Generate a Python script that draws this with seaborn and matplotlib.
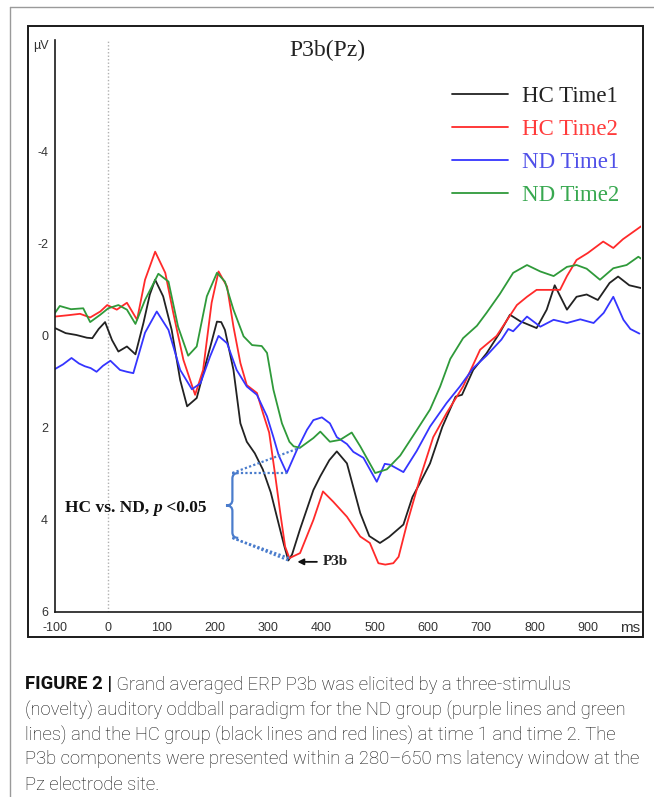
import numpy as np
import pandas as pd
import seaborn as sns
import matplotlib
matplotlib.use("Agg")
from matplotlib import pyplot as plt
from matplotlib.path import Path
from matplotlib.patches import PathPatch, Rectangle
from matplotlib.lines import Line2D

# grand averaged ERP at Pz (ms, microvolt)
hc1_ms = [-100, -80, -60, -40, -30, -18, -6, 7, 19, 35, 51, 66, 78, 88, 103, 119, 135, 148, 166, 185,
          204, 212, 219, 235, 248, 260, 275, 290, 305, 318, 330, 338, 345, 360, 385, 398, 415, 429, 448,
          473, 490, 510, 527, 554, 571, 585, 604, 627, 652, 664, 685, 710, 735, 754, 773, 804, 823, 838,
          861, 879, 898, 919, 941, 957, 978, 1000]
hc1_uv = [-0.17, -0.06, -0.02, 0.04, 0.05, -0.15, -0.3, 0.09, 0.34, 0.23, 0.4, -0.28, -0.9, -1.22, -0.86,
          -0.13, 0.96, 1.53, 1.35, 0.52, -0.31, -0.3, -0.13, 0.74, 1.9, 2.3, 2.55, 2.9, 3.4, 4.0, 4.55,
          4.88, 4.75, 4.2, 3.35, 3.05, 2.7, 2.51, 2.77, 3.85, 4.35, 4.5, 4.37, 4.1, 3.5, 3.2, 2.77, 1.98,
          1.32, 1.28, 0.74, 0.38, -0.07, -0.46, -0.32, -0.17, -0.57, -1.1, -0.57, -0.85, -0.9, -0.78,
          -1.15, -1.29, -1.1, -1.04]

hc2_ms = [-100, -75, -53, -34, -15, -2, 16, 35, 54, 69, 88, 107, 122, 141, 163, 178, 194, 207, 223, 235,
          248, 260, 279, 291, 302, 313, 323, 332, 340, 360, 385, 403, 422, 448, 473, 491, 507, 520, 535,
          545, 561, 585, 610, 635, 666, 698, 729, 767, 786, 804, 830, 848, 861, 879, 900, 929, 948, 966,
          1000]
hc2_uv = [-0.42, -0.45, -0.48, -0.4, -0.53, -0.67, -0.57, -0.72, -0.35, -1.22, -1.83, -1.37, -0.5, 0.52,
          1.28, 0.74, -0.72, -1.4, -1.07, -0.2, 0.59, 1.07, 1.24, 1.7, 2.1, 3.0, 3.86, 4.58, 4.83, 4.72,
          4.0, 3.38, 3.6, 3.93, 4.36, 4.5, 4.94, 4.97, 4.94, 4.8, 4.07, 3.1, 2.2, 1.68, 1.1, 0.3, 0.0,
          -0.67, -0.85, -1.0, -1.0, -1.0, -1.3, -1.65, -1.8, -2.05, -1.91, -2.1, -2.38]

nd1_ms = [-100, -85, -69, -55, -44, -33, -22, -10, 4, 22, 35, 47, 69, 91, 113, 135, 157, 173, 191, 207,
          223, 241, 260, 279, 298, 310, 320, 335, 354, 373, 385, 401, 416, 429, 448, 460, 479, 504, 519,
          529, 554, 579, 604, 635, 660, 685, 710, 738, 751, 760, 786, 811, 836, 861, 886, 911, 930, 948,
          967, 980, 997]
nd1_uv = [0.72, 0.62, 0.48, 0.6, 0.66, 0.7, 0.78, 0.65, 0.54, 0.74, 0.78, 0.81, -0.07, -0.53, -0.13,
          0.74, 1.16, 1.03, 0.45, 0.0, 0.16, 0.74, 1.1, 1.28, 1.75, 2.2, 2.6, 2.98, 2.48, 2.04, 1.83, 1.77,
          1.9, 2.2, 2.35, 2.52, 2.65, 3.17, 2.78, 2.8, 2.96, 2.5, 1.97, 1.46, 1.1, 0.7, 0.43, 0.08, -0.15,
          -0.1, -0.42, -0.2, -0.35, -0.28, -0.36, -0.28, -0.5, -0.85, -0.35, -0.15, -0.05]

nd2_ms = [-100, -91, -70, -47, -34, -15, 0, 19, 35, 51, 69, 94, 113, 131, 150, 166, 185, 204, 219, 235,
          254, 270, 288, 298, 310, 326, 340, 348, 360, 385, 398, 416, 435, 457, 473, 501, 523, 548, 579,
          604, 623, 642, 666, 692, 710, 735, 760, 786, 811, 836, 861, 879, 898, 923, 948, 973, 995, 1000]
nd2_uv = [-0.5, -0.65, -0.58, -0.6, -0.3, -0.46, -0.6, -0.67, -0.57, -0.26, -0.78, -1.35, -1.18, -0.2,
          0.43, 0.23, -0.86, -1.37, -1.18, -0.57, 0.01, 0.2, 0.22, 0.37, 1.17, 1.9, 2.3, 2.4, 2.43, 2.22,
          2.08, 2.3, 2.26, 2.1, 2.4, 2.98, 2.9, 2.6, 2.05, 1.6, 1.1, 0.5, 0.05, -0.22, -0.5, -0.91, -1.37,
          -1.54, -1.4, -1.3, -1.5, -1.54, -1.46, -1.22, -1.47, -1.54, -1.72, -1.68]

labels = ["HC Time1", "HC Time2", "ND Time1", "ND Time2"]
line_colors = ["#222222", "#ff2a2a", "#3535ff", "#2f9a3a"]
text_colors = ["#222222", "#ff3b3b", "#5050e8", "#38a850"]

x_ticks = list(range(-100, 1000, 100))
y_ticks = [-6, -4, -2, 0, 2, 4, 6]
y_ticklabels = ["", "-4", "-2", "0", "2", "4", "6"]

caption = [
    "(novelty) auditory oddball paradigm for the ND group (purple lines and green",
    "lines) and the HC group (black lines and red lines) at time 1 and time 2. The",
    "P3b components were presented within a 280\u2013650 ms latency window at the",
    "Pz electrode site.",
]

frames = []
for name, t, v in zip(labels, [hc1_ms, hc2_ms, nd1_ms, nd2_ms], [hc1_uv, hc2_uv, nd1_uv, nd2_uv]):
    frames.append(pd.DataFrame({"ms": t, "uV": v, "cond": name}))
df = pd.concat(frames, ignore_index=True)

sns.set_style("white")
plt.rcParams["font.family"] = ["Liberation Sans", "DejaVu Sans"]
plt.rcParams["axes.unicode_minus"] = False

W, H = 654, 797
fig = plt.figure(figsize=(W / 100, H / 100), dpi=100)


def fx(px):
    return px / W


def fy(py):
    return 1 - py / H


# page border and figure frame
fig.add_artist(Line2D([fx(10), fx(10)], [0, fy(7)], color="#9a9a9a", lw=1.0))
fig.add_artist(Line2D([fx(10), 1], [fy(7), fy(7)], color="#9a9a9a", lw=1.0))
fig.add_artist(Rectangle((fx(28), fy(637)), fx(643) - fx(28), fy(26) - fy(637),
                         transform=fig.transFigure, fill=False, ec="#1a1a1a", lw=1.4))

ax = fig.add_axes([fx(55), fy(612), fx(641) - fx(55), fy(40) - fy(612)])
ax.patch.set_alpha(0)

sns.lineplot(data=df, x="ms", y="uV", hue="cond", hue_order=labels, palette=line_colors,
             estimator=None, sort=False, legend=False, lw=1.3, ax=ax)

ax.set_xlim(-100, 1000)
ax.set_ylim(6, -6.43)
ax.axvline(0, color="#b0b0b0", lw=1.0, ls=(0, (1, 1.5)), zorder=0)

for s in ["top", "right"]:
    ax.spines[s].set_visible(False)
for s in ["left", "bottom"]:
    ax.spines[s].set_color("#1a1a1a")
    ax.spines[s].set_linewidth(1.2)

ax.set_xticks(x_ticks)
ax.set_xticks(np.arange(-100, 1000, 20), minor=True)
ax.set_yticks(y_ticks)
ax.set_yticklabels(y_ticklabels)
ax.set_yticks([-5, -3, -1, 1, 3, 5], minor=True)
ax.tick_params(axis="x", which="major", direction="inout", length=6, width=1, labelsize=9,
               labelcolor="#333333", pad=4)
ax.tick_params(axis="x", which="minor", direction="in", length=3, width=1)
ax.tick_params(axis="y", which="major", direction="out", length=4, width=1, labelsize=9,
               labelcolor="#333333", pad=1)
ax.tick_params(axis="y", which="minor", direction="out", length=3, width=1)
ax.set_xlabel("")
ax.set_ylabel("")

fig.text(fx(41), fy(46), "\u00b5V", fontsize=9, color="#333333", ha="center", va="center")
fig.text(fx(630), fy(628), "ms", fontsize=11, color="#333333", ha="center", va="center")

serif = ["Liberation Serif", "DejaVu Serif"]
fig.text(fx(327), fy(50), "P3b(Pz)", fontsize=17, family=serif, color="#222222",
         ha="center", va="center")

handles = [Line2D([], [], color=c, lw=1.3) for c in line_colors]
leg = ax.legend(handles, labels, loc="upper left", bbox_to_anchor=(fx(452), fy(86)),
                bbox_transform=fig.transFigure, frameon=False, borderpad=0, borderaxespad=0,
                handlelength=2.45, handletextpad=0.6, labelspacing=0.52,
                prop={"family": serif, "size": 16.5})
for txt, c in zip(leg.get_texts(), text_colors):
    txt.set_color(c)

# significance annotation: brace + dotted links to the P3b troughs
arr = {name: (np.array(t), np.array(v)) for name, t, v in
       zip(labels, [hc1_ms, hc2_ms, nd1_ms, nd2_ms], [hc1_uv, hc2_uv, nd1_uv, nd2_uv])}


def trough(name, lo=280, hi=400):
    t, v = arr[name]
    m = (t >= lo) & (t <= hi)
    i = np.argmax(v[m])
    return t[m][i], v[m][i]


brace_x, brace_tip, brace_hook = 233, 221, 244
top, bot = trough("ND Time1")[1], 4.39
mid = (top + bot) / 2
blue = "#4a7ccc"
verts = [(brace_hook, top), (brace_x, top), (brace_x, top + 0.12),
         (brace_x, mid - 0.12), (brace_x, mid), (brace_tip, mid),
         (brace_x, mid), (brace_x, mid + 0.12),
         (brace_x, bot - 0.12), (brace_x, bot), (brace_hook, bot)]
codes = [Path.MOVETO, Path.CURVE3, Path.CURVE3, Path.LINETO, Path.CURVE3, Path.CURVE3,
         Path.CURVE3, Path.CURVE3, Path.LINETO, Path.CURVE3, Path.CURVE3]
ax.add_patch(PathPatch(Path(verts, codes), fill=False, ec=blue, lw=1.6))

g_t = 360
g_v = arr["ND Time2"][1][list(arr["ND Time2"][0]).index(g_t)]
for (tx, vy), y0 in [(trough("ND Time1"), top), ((g_t, g_v), top),
                     (trough("HC Time1"), bot), (trough("HC Time2"), bot)]:
    ax.plot([brace_x, tx], [y0, vy], color=blue, lw=1.6, ls=(0, (1, 1)))

bold_serif = {"family": serif, "weight": "bold", "size": 12.5, "color": "#111111"}
t1 = ax.text(-81, 3.83, "HC vs. ND, ", va="baseline", ha="left", **bold_serif)
t2 = ax.annotate("p", xy=(1, 3.83), xycoords=(t1, "data"), va="baseline", ha="left",
                 style="italic", **bold_serif)
ax.annotate(" <0.05", xy=(1, 3.83), xycoords=(t2, "data"), va="baseline", ha="left", **bold_serif)

ax.annotate("P3b", xy=(355, 4.91), xytext=(403, 4.91), va="center", ha="left",
            family=serif, fontsize=11, weight="bold", color="#222222",
            arrowprops=dict(arrowstyle="-|>", color="#111111", lw=1.3,
                            mutation_scale=9, shrinkA=2, shrinkB=0))

# caption
cap_font = {"family": ["Roboto", "DejaVu Sans"], "size": 13.3, "color": "#111111"}
base0 = 689.5
head = fig.text(fx(25), fy(base0), "FIGURE 2 |", va="baseline", ha="left",
                weight="bold", **cap_font)
ax.annotate(" Grand averaged ERP P3b was elicited by a three-stimulus", xy=(1, fy(base0)),
            xycoords=(head, "figure fraction"), va="baseline", ha="left",
            weight="light", annotation_clip=False, **cap_font)
for i, line in enumerate(caption):
    fig.text(fx(25), fy(base0 + 25 * (i + 1)), line, va="baseline", ha="left",
             weight="light", **cap_font)

fig.savefig("out.png", dpi=100)
